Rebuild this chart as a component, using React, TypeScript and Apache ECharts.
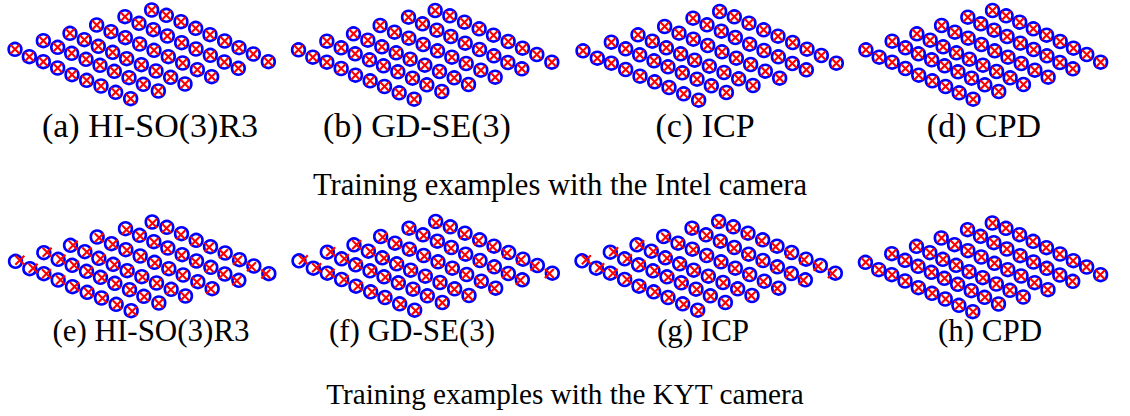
import React, { useEffect, useRef } from "react";
import * as echarts from "echarts";

// Checkerboard corners (image coordinates), 6 rows x 9 points, detected in the image (blue circles)
const observedPoints: [number, number][] = [
  [45, 148], [88, 170], [130, 185], [173, 204], [216, 224], [260, 241], [303, 258], [347, 277], [392, 296],
  [130, 122], [173, 142], [215, 160], [258, 178], [300, 196], [343, 214], [387, 233], [430, 253], [475, 273],
  [210, 100], [253, 119], [295, 139], [338, 157], [380, 176], [424, 194], [468, 213], [512, 232], [555, 252],
  [290, 75], [333, 95], [376, 113], [419, 132], [462, 151], [505, 170], [548, 189], [592, 209], [635, 230],
  [375, 50], [417, 70], [460, 89], [502, 108], [545, 128], [588, 147], [631, 166], [673, 186], [715, 205],
  [455, 30], [499, 46], [543, 65], [587, 85], [630, 104], [674, 123], [717, 143], [760, 162], [805, 185],
];

// Projected corners (red crosses) for the Intel camera panels (a)-(d): coincide with detections
const intelProjected: [number, number][] = [
  [45, 148], [88, 170], [130, 185], [173, 204], [216, 224], [260, 241], [303, 258], [347, 277], [392, 296],
  [130, 122], [173, 142], [215, 160], [258, 178], [300, 196], [343, 214], [387, 233], [430, 253], [475, 273],
  [210, 100], [253, 119], [295, 139], [338, 157], [380, 176], [424, 194], [468, 213], [512, 232], [555, 252],
  [290, 75], [333, 95], [376, 113], [419, 132], [462, 151], [505, 170], [548, 189], [592, 209], [635, 230],
  [375, 50], [417, 70], [460, 89], [502, 108], [545, 128], [588, 147], [631, 166], [673, 186], [715, 205],
  [455, 30], [499, 46], [543, 65], [587, 85], [630, 104], [674, 123], [717, 143], [760, 162], [805, 185],
];

// Projected corners (red crosses) for the KYT camera panels (e)-(g)
const kytProjected: [number, number][] = [
  [58, 145], [98, 169], [138, 185], [180, 204], [222, 224], [264, 241], [306, 259], [350, 278], [395, 298],
  [140, 121], [181, 142], [221, 160], [263, 178], [304, 197], [346, 215], [389, 234], [431, 254], [475, 274],
  [218, 100], [259, 120], [300, 140], [342, 158], [383, 177], [426, 195], [469, 214], [511, 233], [553, 253],
  [296, 77], [337, 97], [379, 115], [421, 134], [463, 153], [504, 171], [546, 190], [589, 210], [631, 231],
  [378, 53], [419, 72], [461, 91], [501, 110], [543, 130], [585, 149], [627, 168], [668, 187], [709, 206],
  [456, 34], [498, 49], [541, 68], [584, 88], [626, 106], [669, 125], [711, 145], [753, 164], [796, 186],
];

// Projected corners for panel (h) CPD with the KYT camera
const kytCpdProjected: [number, number][] = [
  [46, 148], [89, 170], [131, 185], [174, 204], [217, 224], [261, 241], [304, 258], [348, 277], [393, 296],
  [131, 122], [174, 142], [216, 160], [259, 178], [301, 196], [344, 214], [388, 233], [431, 253], [475, 273],
  [211, 100], [254, 119], [296, 139], [339, 157], [381, 176], [425, 194], [468, 213], [512, 232], [554, 252],
  [291, 75], [334, 95], [377, 113], [420, 132], [462, 151], [505, 170], [548, 189], [591, 209], [634, 230],
  [376, 50], [418, 70], [460, 89], [502, 108], [545, 128], [588, 147], [630, 166], [672, 186], [714, 205],
  [456, 30], [499, 46], [543, 65], [586, 85], [629, 104], [673, 123], [716, 143], [759, 162], [804, 185],
];

const panelCaptions = [
  "(a) HI-SO(3)R3", "(b) GD-SE(3)", "(c) ICP", "(d) CPD",
  "(e) HI-SO(3)R3", "(f) GD-SE(3)", "(g) ICP", "(h) CPD",
];
const rowTitles = ["Training examples with the Intel camera", "Training examples with the KYT camera"];

// Layout only
const panelOffsets: [number, number][] = [
  [0, 0], [283.5, 0.5], [568, 1.5], [852, 0.5],
  [0.5, 212], [284, 211.5], [567, 211.5], [851.5, 213],
];
const captionX = [150, 417, 705, 984, 151, 412, 703, 990];
const FONT = "'Liberation Serif', 'Times New Roman', serif";

export default function App() {
  const ref = useRef<HTMLDivElement>(null);
  useEffect(() => {
    if (!ref.current) return;
    const chart = echarts.init(ref.current, undefined, { renderer: "svg" });
    const projected = [
      intelProjected, intelProjected, intelProjected, intelProjected,
      kytProjected, kytProjected, kytProjected, kytCpdProjected,
    ];
    const grid: any[] = [];
    const xAxis: any[] = [];
    const yAxis: any[] = [];
    const series: any[] = [];
    panelOffsets.forEach(([gx, gy], i) => {
      grid.push({ left: gx, top: gy, width: 300, height: 110 });
      xAxis.push({ type: "value", gridIndex: i, min: 0, max: 900, show: false, splitLine: { show: false } });
      yAxis.push({ type: "value", gridIndex: i, min: 0, max: 330, inverse: true, show: false, splitLine: { show: false } });
      series.push({
        type: "scatter",
        xAxisIndex: i,
        yAxisIndex: i,
        data: observedPoints,
        symbol: "circle",
        symbolSize: 12.8,
        clip: false,
        itemStyle: { color: "rgba(0,0,0,0)", borderColor: "#0000ff", borderWidth: 2.6, opacity: 1 },
        emphasis: { disabled: true },
        silent: true,
      });
      series.push({
        type: "scatter",
        xAxisIndex: i,
        yAxisIndex: i,
        data: projected[i],
        symbol: "path://M0,0L10,10M10,0L0,10",
        symbolSize: 9,
        clip: false,
        itemStyle: { color: "rgba(0,0,0,0)", borderColor: "#ff0000", borderWidth: 2.1, opacity: 1 },
        emphasis: { disabled: true },
        silent: true,
        z: 3,
      });
    });
    const graphic: any[] = [];
    panelCaptions.forEach((t, i) => {
      const top = i < 4;
      graphic.push({
        type: "text",
        x: captionX[i],
        y: top ? 125.5 : 330.5,
        style: {
          text: t,
          fontSize: top ? 34 : 31,
          fontFamily: FONT,
          fill: "#000",
          align: "center",
          verticalAlign: "middle",
        },
      });
    });
    graphic.push({
      type: "text",
      x: 560,
      y: 184.5,
      style: { text: rowTitles[0], fontSize: 30.6, fontFamily: FONT, fill: "#000", align: "center", verticalAlign: "middle" },
    });
    graphic.push({
      type: "text",
      x: 565,
      y: 394,
      style: { text: rowTitles[1], fontSize: 29.2, fontFamily: FONT, fill: "#000", align: "center", verticalAlign: "middle" },
    });
    chart.setOption({
      animation: false,
      backgroundColor: "#ffffff",
      grid,
      xAxis,
      yAxis,
      series,
      graphic,
    });
    return () => chart.dispose();
  }, []);
  return (
    <div
      ref={ref}
      style={{ position: "fixed", left: 0, top: 0, width: 1130, height: 416, background: "#fff" }}
    />
  );
}
